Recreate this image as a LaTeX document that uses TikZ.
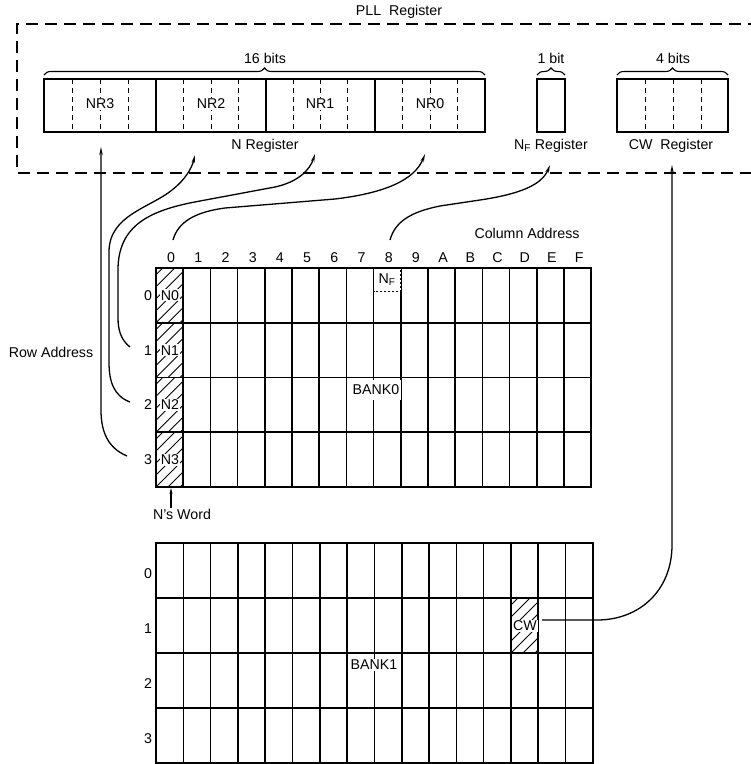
\documentclass[tikz,border=0pt]{standalone}
\usepackage{fontspec}
\setmainfont{Liberation Sans}
\usetikzlibrary{arrows.meta,decorations.pathreplacing}
\newcommand\myhatch[4]{%
  \begin{scope}
    \clip ({#1},{#2}) rectangle ({#3},{#4});
    \foreach \k in {0,...,8}{\draw[hatchline] ({#1-60+12*\k},{#4}) -- ++(80,-80);}
  \end{scope}}
\begin{document}
\begin{tikzpicture}[x=1pt,y=-1pt,font=\fontsize{14.2}{16}\selectfont]
\tikzset{
 gridthin/.style={line width=1.6pt},
 gridthick/.style={line width=2.6pt},
 regbox/.style={line width=2.3pt},
 bitdash/.style={line width=0.9pt, dash pattern=on 5pt off 4pt},
 pllbox/.style={line width=1.4pt, dash pattern=on 12pt off 7pt},
 conn/.style={line width=1.3pt},
 tip/.style={-{Stealth[length=8pt,width=3.5pt]}},
 lbl/.style={inner sep=1pt},
 wlbl/.style={fill=white, inner sep=1pt},
 hatchline/.style={line width=0.9pt},
 bracestyle/.style={decorate, decoration={brace, amplitude=7pt}, line width=1.1pt},
}
\useasboundingbox (0,0) rectangle (751,764);

% PLL register box
\draw[pllbox] (760,24) -- (17,24) -- (17,173) -- (760,173);
\node[lbl] (pll) at (399,12) {PLL\ \ Register};

% N register
\foreach \a/\b in {44/156,156/266,266/375,375/485}
  \foreach \q in {1,2,3}
    \draw[bitdash] ({\a+(\b-\a)*\q/4},79) -- ++(0,53);
\draw[regbox] (44,79) rectangle (485,132);
\foreach \x in {156,266,375} \draw[regbox] (\x,79) -- (\x,132);
\node[wlbl] (nr3) at (100,104) {NR3};
\node[wlbl] (nr2) at (211,104) {NR2};
\node[wlbl] (nr1) at (320,104) {NR1};
\node[wlbl] (nr0) at (430,104) {NR0};
\draw[bracestyle] (44,75) -- (485,75);
\node[lbl] (b16) at (265,58) {16 bits};
\node[lbl] (nreg) at (265,146) {N Register};

% NF register
\draw[regbox] (537,79) rectangle (565,132);
\draw[bracestyle] (537,75) -- (565,75);
\node[lbl] (b1) at (551,58) {1 bit};
\node[lbl] (nfreg) at (551,146) {N\textsubscript{F} Register};

% CW register
\foreach \x in {645,673,701} \draw[bitdash] (\x,79) -- ++(0,53);
\draw[regbox] (617,79) rectangle (728,132);
\draw[bracestyle] (617,75) -- (728,75);
\node[lbl] (b4) at (673,58) {4 bits};
\node[lbl] (cwreg) at (671,146) {CW\ \ Register};

% ---------- BANK 0 ----------
\foreach \r in {0,...,3}
  \myhatch{156}{268+54.75*\r}{183.2}{268+54.75*(\r+1)};
\foreach \i in {1,...,15} \draw[gridthin] ({156+27.2*\i},268) -- ++(0,219);
\foreach \j in {1,2,3} \draw[gridthin] (156,{268+54.75*\j}) -- ++(435,0);
\draw[gridthick] (156,268) rectangle (591,487);
\foreach \c [count=\i from 0] in {0,1,2,3,4,5,6,7,8,9,A,B,C,D,E,F}
  \node[lbl] (c\i) at ({156+27.2*(\i+0.5)+1.5},258) {\c};
\foreach \r in {0,...,3} {
  \node[lbl] (ra\r) at (148,{268+54.75*(\r+0.5)}) {\r};
  \node[wlbl] (n\r) at (170,{268+54.75*(\r+0.5)}) {N\r};
}
% NF cell
\fill[white] (373.6,269.4) rectangle (400.8,291);
\draw[line width=1pt, dash pattern=on 2pt off 2pt] (373.6,269.4) -- (373.6,291) -- (400.8,291) -- (400.8,269.4);
\node[inner sep=0.5pt] (nfcell) at (387,280) {N\textsubscript{F}};
\node[fill=white, inner xsep=2pt, inner ysep=5pt] (bank0) at (376,390) {BANK0};
\node[lbl] (rowaddr) at (51,352) {Row Address};
\node[lbl] (coladdr) at (527,233) {Column Address};
\node[lbl] (nsword) at (182,514) {N's Word};
\coordinate (nwtop) at (171,488);
\draw[conn, -{Stealth[length=6pt,width=3pt]}] (nsword.north -| nwtop) -- (nwtop);

% ---------- BANK 1 ----------
\myhatch{510.9}{598}{538.2}{653}
\foreach \i in {1,...,15} \draw[gridthin] ({156+27.3*\i},543) -- ++(0,220);
\foreach \j in {1,2,3} \draw[gridthin] (156,{543+55*\j}) -- ++(436.8,0);
\draw[gridthick] (156,543) rectangle (592.8,763);
\foreach \r in {0,...,3}
  \node[lbl] (rb\r) at (148,{543+55*(\r+0.5)+3}) {\r};
\node[wlbl] (cw) at (525,626) {CW};
\node[wlbl] (bank1) at (374,665) {BANK1};

% ---------- connectors ----------
\coordinate (a3) at (101,147);
\coordinate (a2) at (195,155);
\coordinate (a1) at (315,154);
\coordinate (a0) at (425,154);
\coordinate (af) at (550,165);
\coordinate (acw) at (672,165);
\coordinate (s3) at (127,456);
\coordinate (s2) at (130,402);
\coordinate (s1) at (130,347);
\coordinate (s0) at (173,240);
\coordinate (sf) at (390,240);
\coordinate (scw) at (542,620);

\draw[conn,tip] (s3) .. controls (108,448) and (101,432) .. (101,410) -- (a3);
\draw[conn,tip] (s2) .. controls (114,396) and (109,382) .. (109,362) -- (109,252)
   .. controls (109,215) and (150,208) .. (172,190) .. controls (185,180) and (192,168) .. (a2);
\draw[conn,tip] (s1) .. controls (121,340) and (118,330) .. (118,318) -- (118,270)
   .. controls (118,225) and (150,210) .. (200,201) -- (275,187) .. controls (298,182) and (310,170) .. (a1);
\draw[conn,tip] (s0) .. controls (178,222) and (195,212) .. (225,208) -- (335,199)
   .. controls (385,193) and (415,180) .. (a0);
\draw[conn,tip] (sf) .. controls (395,222) and (410,212) .. (440,206) -- (480,200)
   .. controls (520,194) and (542,185) .. (af);
\draw[conn,tip] (scw) -- (597,620) .. controls (640,620) and (672,590) .. (672,545) -- (acw);
\end{tikzpicture}
\end{document}
